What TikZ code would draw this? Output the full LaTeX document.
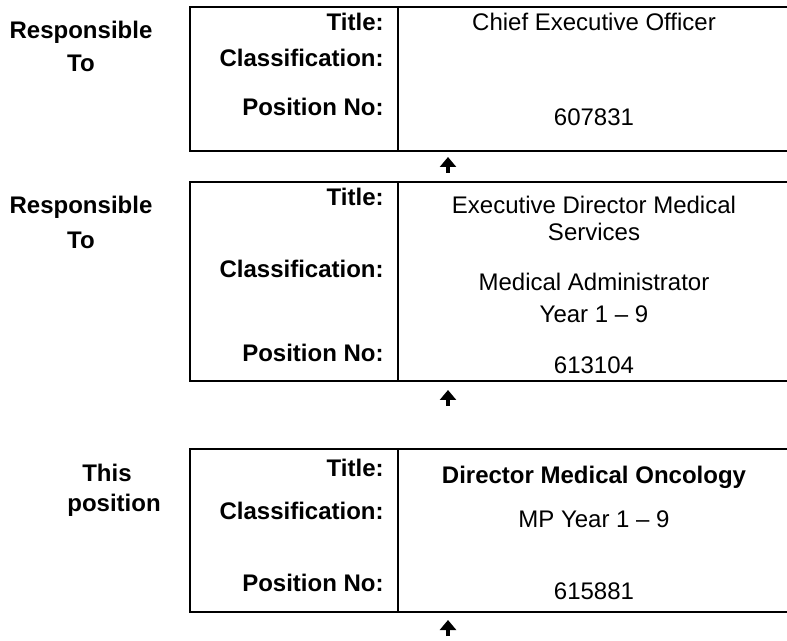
\documentclass[tikz,border=0pt]{standalone}
\usepackage{fontspec}
\setmainfont{Liberation Sans}
\usetikzlibrary{arrows.meta}
\begin{document}
\begin{tikzpicture}[x=0.5pt,y=-0.5pt,
  every node/.style={inner sep=0pt,font=\fontsize{12}{14}\selectfont},
  rule/.style={line width=1pt},
  lab/.style={font=\fontsize{12}{14}\selectfont\bfseries, anchor=base east},
  val/.style={anchor=base},
  valb/.style={anchor=base, font=\fontsize{12}{14}\selectfont\bfseries},
  side/.style={anchor=base, font=\fontsize{12}{14}\selectfont\bfseries},
  uparrow/.style={line width=2pt, -{Triangle[width=8pt,length=5pt]}}]
\useasboundingbox (0,0) rectangle (787,641);

% ---- box frames (open on the right) ----
\coordinate (b1tl) at (190,7);   \coordinate (b1bl) at (190,151);
\coordinate (b1tr) at (787,7);   \coordinate (b1br) at (787,151);
\coordinate (b1dt) at (398,7);   \coordinate (b1db) at (398,151);
\draw[rule] (b1tr) -- (b1tl) -- (b1bl) -- (b1br);
\draw[rule] (b1dt) -- (b1db);

\coordinate (b2tl) at (190,182); \coordinate (b2bl) at (190,381);
\coordinate (b2tr) at (787,182); \coordinate (b2br) at (787,381);
\coordinate (b2dt) at (398,182); \coordinate (b2db) at (398,381);
\draw[rule] (b2tr) -- (b2tl) -- (b2bl) -- (b2br);
\draw[rule] (b2dt) -- (b2db);

\coordinate (b3tl) at (190,449); \coordinate (b3bl) at (190,612);
\coordinate (b3tr) at (787,449); \coordinate (b3br) at (787,612);
\coordinate (b3dt) at (398,449); \coordinate (b3db) at (398,612);
\draw[rule] (b3tr) -- (b3tl) -- (b3bl) -- (b3br);
\draw[rule] (b3dt) -- (b3db);

% ---- side captions ----
\node[side] (s1a) at (81,39)  {Responsible};
\node[side] (s1b) at (81,72)  {To};
\node[side] (s2a) at (81,214) {Responsible};
\node[side] (s2b) at (81,249) {To};
\node[side] (s3a) at (107,481) {This};
\node[side] (s3b) at (114,511) {position};

% ---- first box ----
\node[lab] (t1) at (384,31)  {Title:};
\node[lab] (c1) at (384,67)  {Classification:};
\node[lab] (p1) at (384,116) {Position No:};
\node[val] (tv1) at (594,31)  {Chief Executive Officer};
\node[val] (pv1) at (594,126) {607831};

% ---- second box ----
\node[lab] (t2) at (384,206) {Title:};
\node[lab] (c2) at (384,278) {Classification:};
\node[lab] (p2) at (384,362) {Position No:};
\node[val] (tv2a) at (594,214) {Executive Director Medical};
\node[val] (tv2b) at (594,241) {Services};
\node[val] (cv2a) at (594,291) {Medical Administrator};
\node[val] (cv2b) at (594,323) {Year 1 -- 9};
\node[val] (pv2) at (594,374) {613104};

% ---- third box ----
\node[lab] (t3) at (384,476) {Title:};
\node[lab] (c3) at (384,519) {Classification:};
\node[lab] (p3) at (384,591) {Position No:};
\node[valb] (tv3) at (594,483) {Director Medical Oncology};
\node[val] (cv3) at (594,527) {MP Year 1 -- 9};
\node[val] (pv3) at (594,599) {615881};

% ---- upward arrows under each box ----
\coordinate (a1s) at (448,173); \coordinate (a1e) at (448,157);
\coordinate (a2s) at (448,406); \coordinate (a2e) at (448,390);
\coordinate (a3s) at (448,636); \coordinate (a3e) at (448,620);
\draw[uparrow] (a1s) -- (a1e);
\draw[uparrow] (a2s) -- (a2e);
\draw[uparrow] (a3s) -- (a3e);
\end{tikzpicture}
\end{document}
